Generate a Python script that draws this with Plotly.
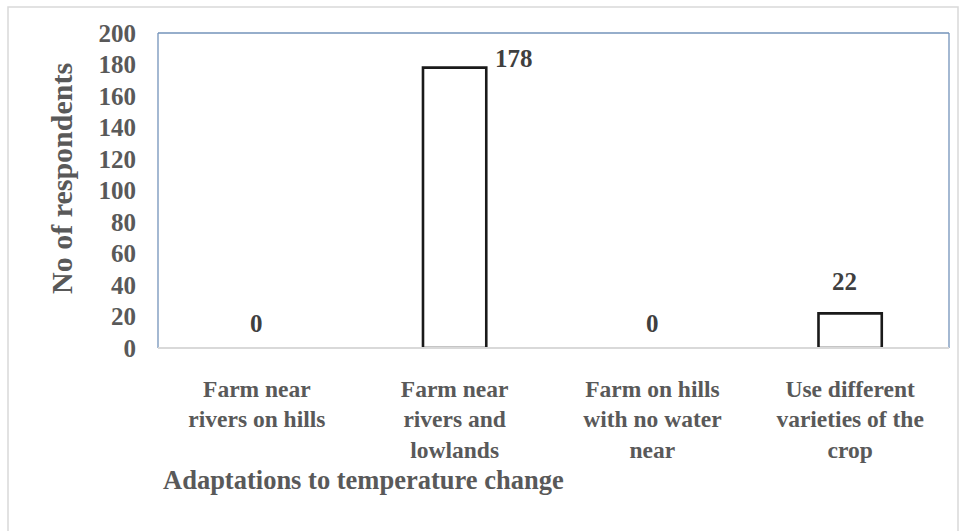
import plotly.graph_objects as go

# Survey results: adaptations to temperature change
categories = [
    "Farm near<br>rivers on hills",
    "Farm near<br>rivers and<br>lowlands",
    "Farm on hills<br>with no water<br>near",
    "Use different<br>varieties of the<br>crop",
]
respondents = [0, 178, 0, 22]
y_ticks = [0, 20, 40, 60, 80, 100, 120, 140, 160, 180, 200]

W, H = 963, 531
L, R, T, B = 158, 14, 33, 183
pw, ph = W - L - R, H - T - B

SERIF = "Liberation Serif, Times New Roman, serif"
GREY = "#595959"


def px_x(x):
    return (x - L) / pw


def px_y(y):
    return (H - B - y) / ph


# zero-height bars get no outline so nothing is drawn for them
outline_w = [2.6 if v > 0 else 0 for v in respondents]

fig = go.Figure(
    go.Bar(
        x=list(range(len(categories))),
        y=respondents,
        width=0.32,
        marker=dict(color="white", line=dict(color="#1a1a1a", width=outline_w)),
        hoverinfo="skip",
    )
)

# value labels (offsets in px keep them clear of the bar tops)
label_offsets = [(0, 25), (59, 9), (0, 25), (-6, 32)]
for i, v in enumerate(respondents):
    dx, dy = label_offsets[i]
    fig.add_annotation(
        x=i, y=v, text=f"<b>{v}</b>", showarrow=False,
        xshift=dx, yshift=dy, xanchor="center", yanchor="middle",
        font=dict(family=SERIF, size=25, color="#3f3f3f"),
    )

# axis titles
fig.add_annotation(
    xref="paper", yref="paper", x=px_x(61), y=px_y(179),
    text="<b>No of respondents</b>", textangle=-90, showarrow=False,
    xanchor="center", yanchor="middle",
    font=dict(family=SERIF, size=30, color=GREY),
)
fig.add_annotation(
    xref="paper", yref="paper", x=px_x(161), y=px_y(480),
    text="<b>Adaptations to temperature change</b>", showarrow=False,
    xanchor="left", yanchor="middle",
    font=dict(family=SERIF, size=26.5, color=GREY),
)

# outer frame
fig.add_shape(
    type="rect", xref="paper", yref="paper", layer="below",
    x0=px_x(8), x1=px_x(958), y0=px_y(545), y1=px_y(7),
    line=dict(color="#d9d9d9", width=1.5), fillcolor="rgba(0,0,0,0)",
)
# plot area border: left, top, right
for x0, y0, x1, y1 in [(0, 0, 0, 1), (0, 1, 1, 1), (1, 0, 1, 1)]:
    fig.add_shape(
        type="line", xref="paper", yref="paper", x0=x0, y0=y0, x1=x1, y1=y1,
        line=dict(color="#7393ba", width=1.3),
    )
# baseline
fig.add_shape(
    type="line", xref="paper", yref="paper", x0=0, y0=0, x1=1, y1=0,
    line=dict(color="#d9d9d9", width=2),
)

fig.update_layout(
    width=W, height=H,
    margin=dict(l=L, r=R, t=T, b=B),
    paper_bgcolor="white", plot_bgcolor="white",
    showlegend=False,
    xaxis=dict(
        range=[-0.5, len(categories) - 0.5],
        tickmode="array", tickvals=list(range(len(categories))),
        ticktext=[f"<b>{c}</b>" for c in categories],
        showgrid=False, zeroline=False, showline=False, ticks="",
        ticklabelstandoff=24,
        tickfont=dict(family=SERIF, size=23.5, color=GREY),
    ),
    yaxis=dict(
        range=[0, 200], tickmode="array", tickvals=y_ticks,
        ticktext=[f"<b>{t}</b>" for t in y_ticks],
        showgrid=False, zeroline=False, showline=False, ticks="",
        ticklabelstandoff=21,
        tickfont=dict(family=SERIF, size=25, color=GREY),
    ),
)

fig.write_html("out.html")
